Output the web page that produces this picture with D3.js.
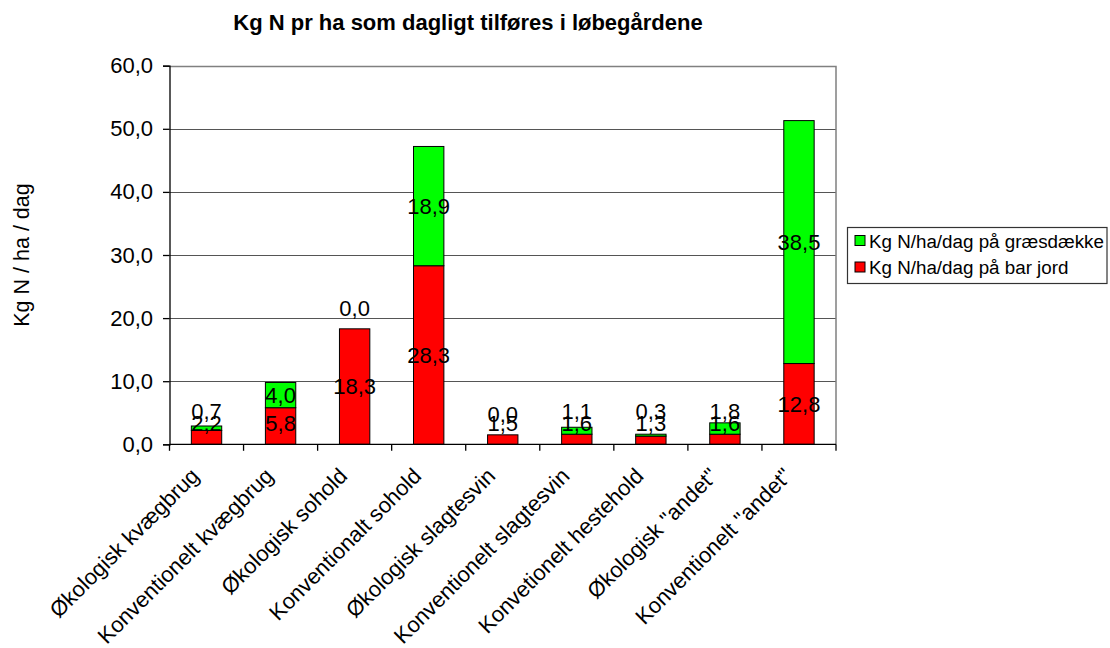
<!DOCTYPE html>
<html>
<head>
<meta charset="utf-8">
<script src="https://cdn.jsdelivr.net/npm/d3@7"></script>
<style>
  body { margin: 0; background: #fff; }
  text { font-family: "Liberation Sans", Arial, sans-serif; fill: #000; }
</style>
</head>
<body>
<svg id="chart" width="1110" height="648"></svg>
<script>
const categories = [
  "Økologisk kvægbrug",
  "Konventionelt kvægbrug",
  "Økologisk sohold",
  "Konventionalt sohold",
  "Økologisk slagtesvin",
  "Konventionelt slagtesvin",
  "Konvetionelt hestehold",
  "Økologisk \"andet\"",
  "Konventionelt \"andet\""
];
const barJord =    [2.2, 5.8, 18.3, 28.3, 1.5, 1.6, 1.3, 1.6, 12.8];
const graesdaekke = [0.7, 4.0, 0.0, 18.9, 0.0, 1.1, 0.3, 1.8, 38.5];
const yTicks = [0, 10, 20, 30, 40, 50, 60];
const seriesNames = ["Kg N/ha/dag på græsdække", "Kg N/ha/dag på bar jord"];
const title = "Kg N pr ha som dagligt tilføres i løbegårdene";
const yTitle = "Kg N / ha / dag";

const RED = "#ff0000", GREEN = "#00ff00";
const locale = d3.formatLocale({decimal: ",", thousands: ".", grouping: [3], currency: ["", " kr."]});
const fmt = locale.format(".1f");

const svg = d3.select("#chart");
const plot = {left: 169.5, right: 836, top: 65.7, bottom: 444.3};

const x = d3.scaleBand().domain(categories).range([plot.left, plot.right])
  .paddingInner(0.59).paddingOuter(0.295);
const y = d3.scaleLinear().domain([0, 60]).range([plot.bottom, plot.top]);

// gridlines
svg.append("g").selectAll("line").data(yTicks.filter(t => t > 0)).join("line")
  .attr("x1", plot.left).attr("x2", plot.right)
  .attr("y1", d => Math.round(y(d)) + 0.5).attr("y2", d => Math.round(y(d)) + 0.5)
  .attr("stroke", "#555").attr("stroke-width", 1.2);

// plot border top/right
svg.append("path")
  .attr("d", `M${plot.left},${Math.round(plot.top)+0.5}H${plot.right}V${plot.bottom}`)
  .attr("fill", "none").attr("stroke", "#808080").attr("stroke-width", 1.5);

// bars
const stackData = categories.map((c, i) => ({c, red: barJord[i], green: graesdaekke[i]}));
const bars = svg.append("g");
stackData.forEach(d => {
  bars.append("rect")
    .attr("x", x(d.c)).attr("width", x.bandwidth())
    .attr("y", y(d.red)).attr("height", y(0) - y(d.red))
    .attr("fill", RED).attr("stroke", "#000").attr("stroke-width", 1);
  bars.append("rect")
    .attr("x", x(d.c)).attr("width", x.bandwidth())
    .attr("y", y(d.red + d.green)).attr("height", y(d.red) - y(d.red + d.green))
    .attr("fill", GREEN).attr("stroke", "#000").attr("stroke-width", 1);
});

// y axis
const yAxis = d3.axisLeft(y).tickValues(yTicks).tickSize(6.5).tickPadding(10).tickFormat(fmt);
const gy = svg.append("g").attr("transform", `translate(${plot.left},0)`).call(yAxis);
gy.select(".domain").attr("stroke", "#000").attr("stroke-width", 1.3);
gy.selectAll(".tick line").attr("stroke", "#000").attr("stroke-width", 1.3);
gy.selectAll(".tick text").attr("font-size", 22).attr("font-family", "Liberation Sans, Arial, sans-serif");

// x axis baseline and ticks at category boundaries
const boundaries = categories.map(c => x(c) - x.step() * x.paddingOuter()).concat([plot.right]);
svg.append("line").attr("x1", plot.left).attr("x2", plot.right)
  .attr("y1", plot.bottom).attr("y2", plot.bottom).attr("stroke", "#000").attr("stroke-width", 1.3);
svg.append("g").selectAll("line").data(boundaries).join("line")
  .attr("x1", d => d).attr("x2", d => d)
  .attr("y1", plot.bottom).attr("y2", plot.bottom + 6.5)
  .attr("stroke", "#000").attr("stroke-width", 1.3);

// x labels
svg.append("g").selectAll("text").data(categories).join("text")
  .attr("transform", d => `translate(${x(d) + x.bandwidth() / 2 - 6},${plot.bottom + 33}) rotate(-45)`)
  .attr("text-anchor", "end").attr("font-size", 22)
  .text(d => d);

// data labels
const labels = svg.append("g").attr("font-size", 22).attr("text-anchor", "middle");
stackData.forEach(d => {
  const cx = x(d.c) + x.bandwidth() / 2;
  const redY = Math.min(y(d.red / 2), y(0) - 21);
  let greenY;
  if (d.green === 0) greenY = y(d.red) - 21;
  else greenY = Math.min(y(d.red + d.green / 2), redY - 12);
  labels.append("text").attr("x", cx).attr("y", greenY).attr("dy", "0.36em").text(fmt(d.green));
  labels.append("text").attr("x", cx).attr("y", redY).attr("dy", "0.36em").text(fmt(d.red));
});

// title
svg.append("text").attr("x", 468).attr("y", 29.5).attr("text-anchor", "middle")
  .attr("font-size", 22).attr("font-weight", "bold").text(title);

// y title
svg.append("text").attr("transform", "translate(29,255) rotate(-90)")
  .attr("text-anchor", "middle").attr("font-size", 21.5).text(yTitle);

// legend
const lg = svg.append("g");
lg.append("rect").attr("x", 847.5).attr("y", 227.5).attr("width", 259.5).attr("height", 56)
  .attr("fill", "#fff").attr("stroke", "#333").attr("stroke-width", 1.2);
const legendColors = [GREEN, RED];
seriesNames.forEach((s, i) => {
  lg.append("rect").attr("x", 855).attr("y", 235.5 + i * 26.5).attr("width", 10).attr("height", 10)
    .attr("fill", legendColors[i]).attr("stroke", "#000").attr("stroke-width", 1);
  lg.append("text").attr("x", 869).attr("y", 247.5 + i * 26.5).attr("font-size", 18.8).text(s);
});
</script>
</body>
</html>
